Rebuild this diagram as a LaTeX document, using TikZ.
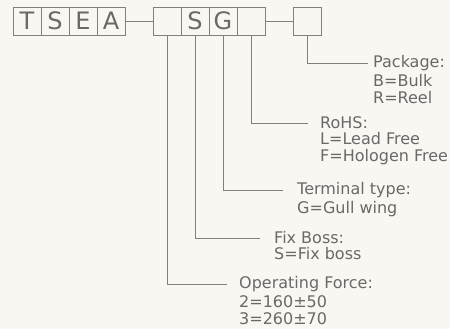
\documentclass[tikz,border=0pt]{standalone}
\usepackage{fontspec}
\setmainfont{DejaVu Sans}
\usetikzlibrary{positioning}
\definecolor{paper}{RGB}{250,247,242}
\definecolor{cadline}{RGB}{128,128,128}
\definecolor{cadtext}{RGB}{105,105,105}

\begin{document}
\begin{tikzpicture}[
    x=1pt, y=-1pt,
    cell/.style={rectangle, draw=cadline, line width=0.9pt, minimum width=28pt, minimum height=28pt, inner sep=0pt, text=cadtext, font=\fontsize{24}{24}\selectfont},
    head/.style={anchor=west, inner sep=0pt, text=cadtext, font=\fontsize{16}{17}\selectfont},
    vals/.style={anchor=north west, inner sep=0pt, align=left, text=cadtext, font=\fontsize{16}{17}\selectfont},
    lead/.style={draw=cadline, line width=0.9pt}
]

% Background and margins
\useasboundingbox[fill=paper] (0,0) rectangle (450,329);

% Top code boxes - first group
\node[cell] (a1) at (27,21) {T};
\node[cell] (a2) at (55,21) {S};
\node[cell] (a3) at (83,21) {E};
\node[cell] (a4) at (111,21) {A};

% Second group
\node[cell] (s1) at (167,21) {};
\node[cell] (s2) at (195,21) {S};
\node[cell] (s3) at (223,21) {G};
\node[cell] (s4) at (251,21) {};

% Last box
\node[cell] (p1) at (307.5,21) {};

% Dashes between groups
\draw[lead] (a4.east) -- (s1.west);
\draw[lead] (s4.east) -- (p1.west);

% Labels - headings and their values
\node[head] (pack) at (373,63) {Package:};
\node[vals] (packv) at ([yshift=-3pt]pack.south west) {B=Bulk\\R=Reel};

\node[head] (rohs) at (320,123) {RoHS:};
\node[vals] (rohsv) at ([yshift=-3pt]rohs.south west) {L=Lead Free\\F=Hologen Free};

\node[head] (term) at (297,190) {Terminal type:};
\node[vals] (termv) at ([yshift=-3pt]term.south west) {G=Gull wing};

\node[head] (boss) at (274,238) {Fix Boss:};
\node[vals] (bossv) at ([yshift=-3pt]boss.south west) {S=Fix boss};

\node[head] (force) at (239,284) {Operating Force:};
\node[vals] (forcev) at ([yshift=-3pt]force.south west) {2=160±50\\3=260±70};

% Leader lines
\draw[lead, shorten >=5pt] (p1.south) |- (pack.west);
\draw[lead, shorten >=12pt] (s4.south) |- (rohs.west);
\draw[lead, shorten >=14pt] (s3.south) |- (term.west);
\draw[lead, shorten >=14pt] (s2.south) |- (boss.west);
\draw[lead, shorten >=12pt] (s1.south) |- (force.west);

\end{tikzpicture}
\end{document}
